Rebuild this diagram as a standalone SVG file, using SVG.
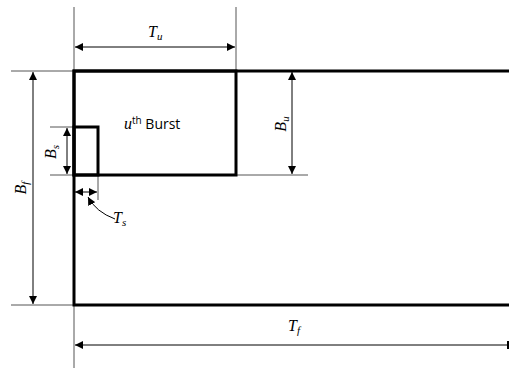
<svg xmlns="http://www.w3.org/2000/svg" width="509" height="369" viewBox="0 0 509 369">
<defs>
<marker id="ah" viewBox="0 0 10 10" refX="10" refY="5" markerWidth="8" markerHeight="8" markerUnits="userSpaceOnUse" orient="auto-start-reverse">
<path d="M0,0 L10,5 L0,10 Z" fill="#000"/>
</marker>
<style>
.thin{stroke:#555;stroke-width:1;fill:none}
.thick{stroke:#000;stroke-width:3;fill:none}
.dim{stroke:#000;stroke-width:1;fill:none}
.lbl{font-family:"Liberation Serif",serif;font-style:italic;font-size:16px;fill:#000}
.sub{font-size:11px}
.txt{font-family:"Open Sans","Liberation Sans",sans-serif;font-size:14px;fill:#000}
</style>
</defs>
<rect width="509" height="369" fill="#fff"/>
<g id="guides">
<line class="thin" x1="74" y1="7" x2="74" y2="368"/>
<line class="thin" x1="236" y1="7" x2="236" y2="72"/>
<line class="thin" x1="11" y1="71" x2="74" y2="71"/>
<line class="thin" x1="11" y1="305" x2="98" y2="305"/>
<line class="thin" x1="236" y1="175" x2="308" y2="175"/>
<line class="thin" x1="50" y1="127" x2="74" y2="127"/>
<line class="thin" x1="50" y1="175" x2="74" y2="175"/>
<line class="thin" x1="98" y1="175" x2="98" y2="200"/>
</g>
<g id="frame">
<polyline class="thick" points="509,71 74,71 74,305 509,305"/>
</g>
<g id="burst">
<rect class="thick" x="74" y="71" width="162" height="104"/>
<text class="txt" x="124" y="129"><tspan font-family="Liberation Serif,serif" font-style="italic" font-size="16">u</tspan><tspan font-size="10" dy="-5">th</tspan><tspan dy="5"> Burst</tspan></text>
</g>
<g id="sub">
<rect class="thick" x="74" y="127" width="24" height="48"/>
</g>
<g id="connectors">
<line class="dim" x1="75" y1="47" x2="235" y2="47" marker-start="url(#ah)" marker-end="url(#ah)"/>
<line class="dim" x1="292" y1="72" x2="292" y2="174" marker-start="url(#ah)" marker-end="url(#ah)"/>
<line class="dim" x1="67" y1="128" x2="67" y2="174" marker-start="url(#ah)" marker-end="url(#ah)"/>
<line class="dim" x1="33" y1="72" x2="33" y2="304" marker-start="url(#ah)" marker-end="url(#ah)"/>
<line class="dim" x1="75" y1="192" x2="97" y2="192" marker-start="url(#ah)" marker-end="url(#ah)"/>
<path class="dim" d="M115,219 Q96,212 88,197" marker-end="url(#ah)"/>
<line class="dim" x1="75" y1="345" x2="508" y2="345" marker-start="url(#ah)"/>
<line x1="508" y1="341" x2="508" y2="349" stroke="#000" stroke-width="2"/>
</g>
<g id="labels">
<text class="lbl" x="148" y="37">T<tspan class="sub" dy="3">u</tspan></text>
<text class="lbl" transform="translate(286,124) rotate(-90)" text-anchor="middle">B<tspan class="sub" dy="3">u</tspan></text>
<text class="lbl" transform="translate(56,152) rotate(-90)" text-anchor="middle">B<tspan class="sub" dy="3">s</tspan></text>
<text class="lbl" transform="translate(26,188) rotate(-90)" text-anchor="middle">B<tspan class="sub" dy="3">f</tspan></text>
<text class="lbl" x="113" y="223">T<tspan class="sub" dy="3">s</tspan></text>
<text class="lbl" x="288" y="331">T<tspan class="sub" dy="3">f</tspan></text>
</g>
</svg>
